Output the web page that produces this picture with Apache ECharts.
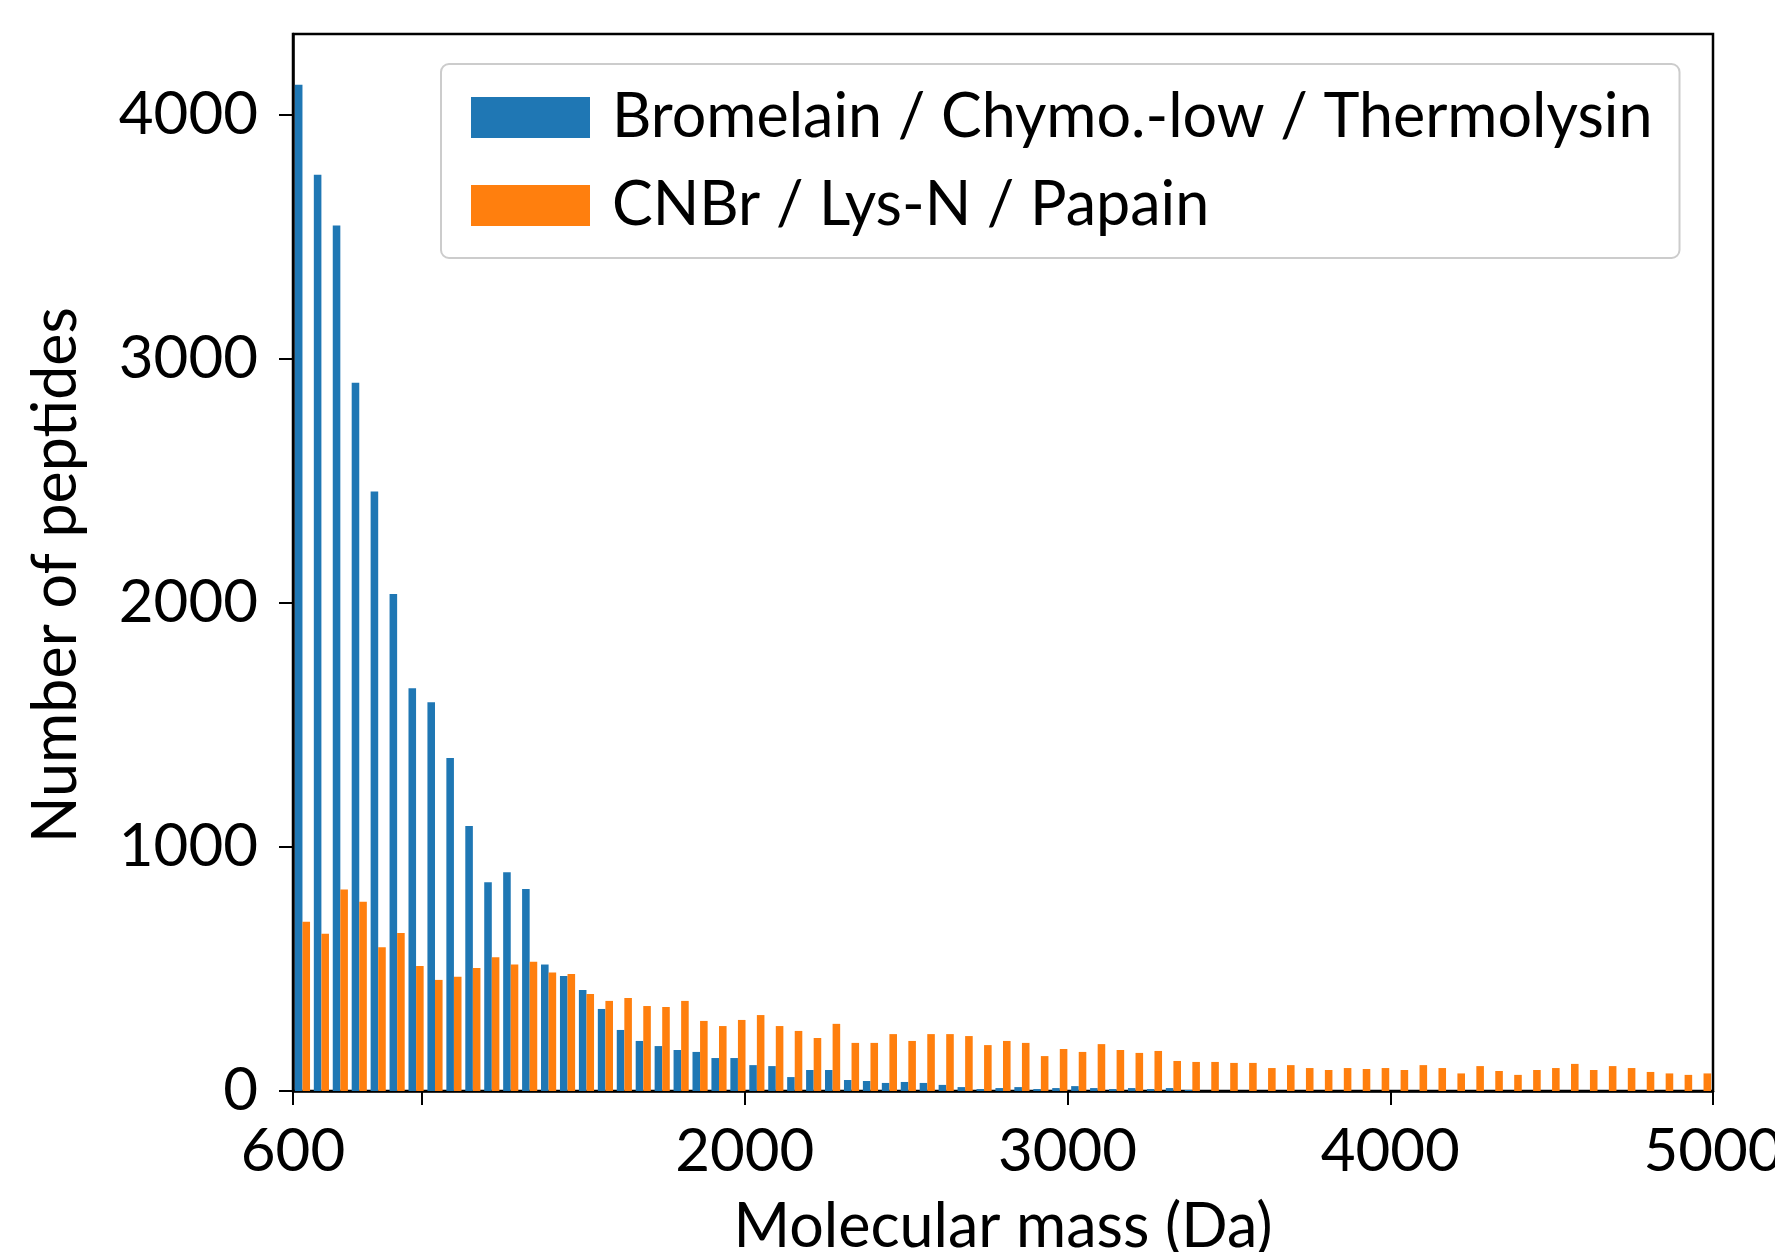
<!DOCTYPE html>
<html>
<head>
<meta charset="utf-8">
<script src="https://cdn.jsdelivr.net/npm/echarts@6/dist/echarts.min.js"></script>
<style>
    html, body { margin: 0; padding: 0; background: #fff; }
    #chart { width: 1775px; height: 1252px; }
</style>
</head>
<body>
<div id="chart"></div>
<script>
/* histogram data, 75 bins from 600 to 5000 Da */
var massMin = 600;
var massMax = 5000;
var binCount = 75;

var seriesNames = ['Bromelain / Chymo.-low / Thermolysin', 'CNBr / Lys-N / Papain'];

var bromelainCounts = [
    4121, 3753, 3545, 2901, 2455, 2036, 1649, 1592, 1364, 1085, 855, 896, 827, 518, 471,
    414, 336, 250, 205, 184, 168, 160, 135, 135, 106, 102, 57, 86, 86, 45, 41, 33, 37, 33, 25,
    16, 8, 12, 16, 8, 12, 20, 12, 8, 12, 8, 12, 4,
    0, 0, 0, 0, 0, 0, 0, 0, 0, 0, 0, 0, 0, 0, 0, 0, 0, 0, 0, 0, 0, 0, 0, 0, 0, 0, 0
];
var cnbrCounts = [
    693, 644, 825, 775, 589, 647, 512, 455, 468, 504, 548, 518, 529, 485, 479,
    397, 369, 381, 348, 344, 369, 287, 266, 291, 311, 266, 246, 217, 275, 197, 197, 233, 205, 233, 233,
    225, 188, 205, 197, 143, 172, 160, 192, 168, 156, 164, 123, 119, 119, 115, 115, 94, 106, 94, 86,
    94, 90, 94, 86, 106, 94, 72, 102, 82, 66, 86, 94, 111, 86, 102, 94, 78, 72, 66, 72
];

var xTickValues = [600, 1000, 2000, 3000, 4000, 5000];
var xLabelValues = [600, 2000, 3000, 4000, 5000];
var yTickValues = [0, 1000, 2000, 3000, 4000];
var yMax = 4329;

/* bin labels (left edge of each bin) */
var binLabels = [];
for (var i = 0; i < binCount; i++) {
    binLabels.push(String(Math.round(massMin + i * (massMax - massMin) / binCount)));
}

function plainNumber(v) {
    return String(Math.round(v));
}

function histChart(domId) {
    var chartInstance, font, axisLine, option;

    chartInstance = echarts.init(document.getElementById(domId), null, {renderer: 'canvas'});
    font = 'Lato, "Open Sans", sans-serif';
    axisLine = {
        show: true,
        lineStyle: { color: '#000', width: 2.5 }
    };

    option = {
        backgroundColor: '#fff',
        animation: false,
        color: ['#1f77b4', '#ff7f0e'],
        textStyle: { fontFamily: font },
        grid: {
            left: 293,
            top: 34,
            width: 1420,
            height: 1057,
            outerBoundsMode: 'none',
            containLabel: false,
            show: true,
            borderColor: '#000',
            borderWidth: 2.5,
            backgroundColor: 'transparent'
        },
        legend: {
            data: seriesNames,
            orient: 'vertical',
            left: 441,
            top: 64,
            icon: 'rect',
            itemWidth: 119,
            itemHeight: 41,
            itemGap: 27,
            padding: [23, 27, 22, 30],
            backgroundColor: '#fff',
            borderColor: '#cccccc',
            borderWidth: 2,
            borderRadius: 8,
            textStyle: {
                fontFamily: font,
                fontSize: 61,
                color: '#000',
                lineHeight: 60,
                padding: [0, 0, 0, 17]
            }
        },
        xAxis: [
            {
                type: 'category',
                data: binLabels,
                boundaryGap: true,
                show: false
            },
            {
                type: 'value',
                position: 'bottom',
                min: massMin,
                max: massMax,
                name: 'Molecular mass (Da)',
                nameLocation: 'middle',
                nameGap: 106,
                nameTextStyle: { fontFamily: font, fontSize: 61, color: '#000' },
                axisLine: axisLine,
                axisTick: {
                    show: true,
                    length: 14,
                    customValues: xTickValues,
                    lineStyle: { color: '#000', width: 2 }
                },
                axisLabel: {
                    customValues: xLabelValues,
                    formatter: plainNumber,
                    fontFamily: font,
                    fontSize: 60,
                    color: '#000',
                    margin: 31
                },
                splitLine: { show: false }
            }
        ],
        yAxis: {
            type: 'value',
            min: 0,
            max: yMax,
            name: 'Number of peptides',
            nameLocation: 'middle',
            nameGap: 206,
            nameTextStyle: {
                fontFamily: font,
                fontSize: 61,
                color: '#000',
                padding: [0, 25, 0, 0]
            },
            axisLine: axisLine,
            axisTick: {
                show: true,
                length: 14,
                customValues: yTickValues,
                lineStyle: { color: '#000', width: 2 }
            },
            axisLabel: {
                customValues: yTickValues,
                formatter: plainNumber,
                fontFamily: font,
                fontSize: 60,
                color: '#000',
                margin: 35
            },
            splitLine: { show: false }
        },
        series: [
            {
                name: seriesNames[0],
                type: 'bar',
                xAxisIndex: 0,
                data: bromelainCounts,
                barGap: '0%',
                barCategoryGap: '20%'
            },
            {
                name: seriesNames[1],
                type: 'bar',
                xAxisIndex: 0,
                data: cnbrCounts,
                barGap: '0%',
                barCategoryGap: '20%'
            }
        ]
    };
    chartInstance.setOption(option);
    return chartInstance;
}

histChart('chart');
</script>
</body>
</html>
